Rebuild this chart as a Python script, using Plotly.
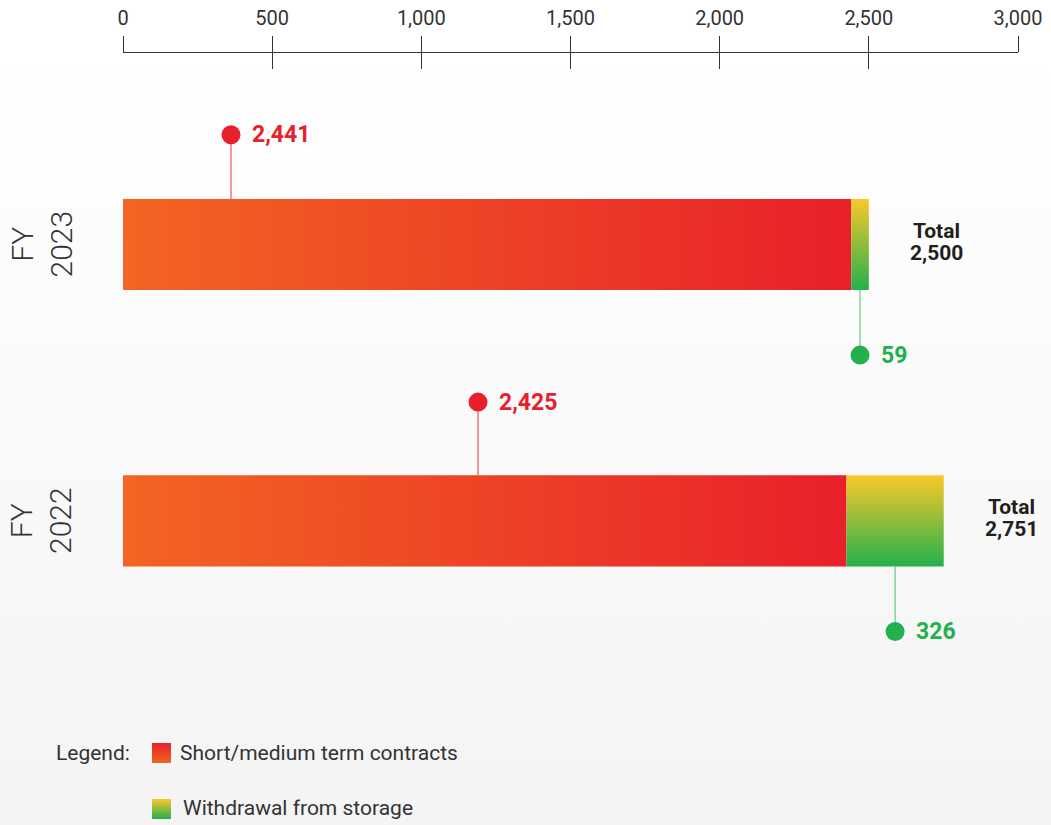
import base64
import plotly.graph_objects as go

# ---- data -------------------------------------------------------------
years = ["FY 2022", "FY 2023"]
short_medium_term = [2425, 2441]      # Short/medium term contracts
storage_withdrawal = [326, 59]        # Withdrawal from storage
totals = [2751, 2500]
tick_values = [0, 500, 1000, 1500, 2000, 2500, 3000]
tick_labels = ["0", "500", "1,000", "1,500", "2,000", "2,500", "3,000"]

# ---- layout constants -------------------------------------------------
W, H = 1051, 825
ML, MR, MT, MB = 123, 33, 53, 0
PW, PH = W - ML - MR, H - MT - MB
Y_RANGE = [-1.0995, 1.6926]
BAR_HALF = 0.165
CALLOUT_X = [1190, 362]     # where the red callouts sit along each bar
RED_STEM = [0.43, 0.397]
GREEN_STEM = 0.40

ORANGE = "#F26522"
RED = "#E8202A"
YELLOW = "#FBC82A"
GREEN = "#22B14C"
TEXT = "#333333"
FONT = "Roboto"


def svg_uri(top, bottom, stop_top=0.0):
    svg = (
        "<svg xmlns='http://www.w3.org/2000/svg' width='100' height='100' "
        "preserveAspectRatio='none'><defs><linearGradient id='g' x1='0' y1='0' "
        f"x2='0' y2='1'><stop offset='{stop_top}' stop-color='{top}'/>"
        f"<stop offset='1' stop-color='{bottom}'/></linearGradient></defs>"
        "<rect width='100' height='100' fill='url(#g)'/></svg>"
    )
    return "data:image/svg+xml;base64," + base64.b64encode(svg.encode()).decode()


def rect(x0, x1, y):
    return [x0, x1, x1, x0, x0], [y - BAR_HALF, y - BAR_HALF, y + BAR_HALF, y + BAR_HALF, y - BAR_HALF]


fig = go.Figure()

rows = list(range(len(years)))

# stacked bars with gradient fills
for i in rows:
    xs, ys = rect(0, short_medium_term[i], i)
    fig.add_trace(go.Scatter(
        x=xs, y=ys, mode="lines", line=dict(width=0), fill="toself",
        fillgradient=dict(type="horizontal", colorscale=[[0, ORANGE], [1, RED]]),
        hoverinfo="skip", showlegend=False))
    xs, ys = rect(short_medium_term[i], short_medium_term[i] + storage_withdrawal[i], i)
    fig.add_trace(go.Scatter(
        x=xs, y=ys, mode="lines", line=dict(width=0), fill="toself",
        fillgradient=dict(type="vertical", colorscale=[[0, GREEN], [1, YELLOW]]),
        hoverinfo="skip", showlegend=False))

# callout stems
for i in rows:
    fig.add_trace(go.Scatter(
        x=[CALLOUT_X[i], CALLOUT_X[i]], y=[i + BAR_HALF, i + RED_STEM[i]],
        mode="lines", line=dict(color="rgba(232,32,42,0.6)", width=1.5),
        hoverinfo="skip", showlegend=False))
    gx = short_medium_term[i] + storage_withdrawal[i] / 2
    fig.add_trace(go.Scatter(
        x=[gx, gx], y=[i - BAR_HALF, i - GREEN_STEM],
        mode="lines", line=dict(color="rgba(34,177,76,0.55)", width=1.5),
        hoverinfo="skip", showlegend=False))

# callout dots
fig.add_trace(go.Scatter(
    x=CALLOUT_X, y=[i + RED_STEM[i] for i in rows], mode="markers",
    marker=dict(size=19, color=RED), hoverinfo="skip", showlegend=False))
fig.add_trace(go.Scatter(
    x=[short_medium_term[i] + storage_withdrawal[i] / 2 for i in rows],
    y=[i - GREEN_STEM for i in rows], mode="markers",
    marker=dict(size=19, color=GREEN), hoverinfo="skip", showlegend=False))

# invisible trace so the inside-tick overlay axis is drawn
fig.add_trace(go.Scatter(x=[0], y=[0], xaxis="x2", mode="markers",
                         marker=dict(opacity=0), hoverinfo="skip", showlegend=False))

ann = []
for i in rows:
    ann.append(dict(x=CALLOUT_X[i], y=i + RED_STEM[i], text=f"{short_medium_term[i]:,}",
                    xanchor="left", yanchor="middle", xshift=19, showarrow=False,
                    font=dict(family=FONT, size=23, color=RED, weight=700)))
    ann.append(dict(x=short_medium_term[i] + storage_withdrawal[i] / 2, y=i - GREEN_STEM,
                    text=f"{storage_withdrawal[i]:,}", xanchor="left", yanchor="middle",
                    xshift=19, showarrow=False,
                    font=dict(family=FONT, size=23, color=GREEN, weight=700)))
    ann.append(dict(x=totals[i], y=i, text="Total", xanchor="center", yanchor="middle",
                    xshift=68, yshift=14, showarrow=False,
                    font=dict(family=FONT, size=21, color="#231F20", weight=700)))
    ann.append(dict(x=totals[i], y=i, text=f"{totals[i]:,}", xanchor="center",
                    yanchor="middle", xshift=68, yshift=-8, showarrow=False,
                    font=dict(family=FONT, size=21, color="#231F20", weight=700)))
    ann.append(dict(x=0, xref="paper", y=i, text=years[i].replace(" ", "<br>"),
                    textangle=-90, xanchor="center", yanchor="middle", xshift=-82,
                    showarrow=False, align="center",
                    font=dict(family=FONT, size=30, color=TEXT, weight=300)))


def paper_x(px):
    return (px - ML) / PW


def paper_y(py):
    return (H - MB - py) / PH


# legend
ann.append(dict(x=paper_x(54), y=paper_y(753), xref="paper", yref="paper", text="Legend:",
                xanchor="left", yanchor="middle", showarrow=False,
                font=dict(family=FONT, size=21, color=TEXT)))
ann.append(dict(x=paper_x(178), y=paper_y(753), xref="paper", yref="paper",
                text="Short/medium term contracts", xanchor="left", yanchor="middle",
                showarrow=False, font=dict(family=FONT, size=21, color=TEXT)))
ann.append(dict(x=paper_x(181), y=paper_y(808), xref="paper", yref="paper",
                text="Withdrawal from storage", xanchor="left", yanchor="middle",
                showarrow=False, font=dict(family=FONT, size=21, color=TEXT)))

images = [
    # page background
    dict(source=svg_uri("#ffffff", "#f4f4f4", 0.08), xref="paper", yref="paper",
         x=paper_x(0), y=paper_y(0), sizex=W / PW, sizey=H / PH,
         xanchor="left", yanchor="top", sizing="stretch", layer="below"),
    # legend swatches
    dict(source=svg_uri(RED, ORANGE), xref="paper", yref="paper",
         x=paper_x(152), y=paper_y(743), sizex=19 / PW, sizey=20 / PH,
         xanchor="left", yanchor="top", sizing="stretch", layer="above"),
    dict(source=svg_uri(YELLOW, GREEN), xref="paper", yref="paper",
         x=paper_x(152), y=paper_y(799), sizex=19 / PW, sizey=20 / PH,
         xanchor="left", yanchor="top", sizing="stretch", layer="above"),
]

fig.update_layout(
    width=W, height=H,
    margin=dict(l=ML, r=MR, t=MT, b=MB, pad=0),
    paper_bgcolor="white", plot_bgcolor="rgba(0,0,0,0)",
    showlegend=False,
    xaxis=dict(range=[0, 3000], side="top", showline=True, linecolor="#333", linewidth=1,
               ticks="outside", ticklen=16, tickwidth=1, tickcolor="#333",
               tickvals=tick_values, ticktext=tick_labels, ticklabelstandoff=3,
               tickfont=dict(family=FONT, size=20, color=TEXT),
               showgrid=False, zeroline=False, fixedrange=True),
    xaxis2=dict(range=[0, 3000], overlaying="x", matches="x", side="top", anchor="y",
                ticks="inside", ticklen=16, tickwidth=1, tickcolor="#333",
                tickvals=tick_values, showticklabels=False, showline=False,
                showgrid=False, zeroline=False, fixedrange=True),
    yaxis=dict(range=Y_RANGE, visible=False, fixedrange=True),
    annotations=ann,
    images=images,
)

fig.write_html("out.html")
